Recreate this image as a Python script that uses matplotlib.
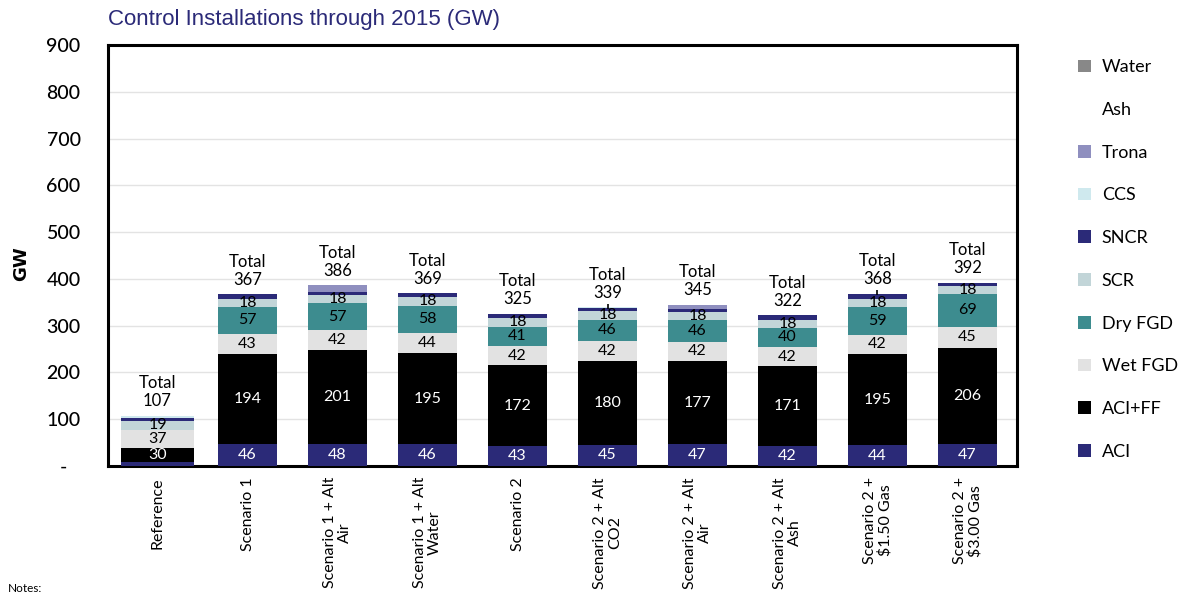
import matplotlib
matplotlib.use("Agg")
import matplotlib.pyplot as plt
import numpy as np

categories = ["Reference", "Scenario 1", "Scenario 1 + Alt\nAir", "Scenario 1 + Alt\nWater",
              "Scenario 2", "Scenario 2 + Alt\nCO2", "Scenario 2 + Alt\nAir", "Scenario 2 + Alt\nAsh",
              "Scenario 2 +\n$1.50 Gas", "Scenario 2 +\n$3.00 Gas"]

aci     = [9, 46, 48, 46, 43, 45, 47, 42, 44, 47]
aci_ff  = [30, 194, 201, 195, 172, 180, 177, 171, 195, 206]
wet_fgd = [37, 43, 42, 44, 42, 42, 42, 42, 42, 45]
dry_fgd = [2, 57, 57, 58, 41, 46, 46, 40, 59, 69]
scr     = [19, 18, 18, 18, 18, 18, 18, 18, 18, 18]
sncr    = [6, 9, 7, 8, 9, 7, 6, 9, 9, 7]
ccs     = [4, 0, 0, 0, 0, 1, 0, 0, 1, 0]
trona   = [0, 0, 13, 0, 0, 0, 9, 0, 0, 0]
ash     = [0, 0, 0, 0, 0, 0, 0, 0, 0, 0]
water   = [0, 0, 0, 0, 0, 0, 0, 0, 0, 0]
totals  = [107, 367, 386, 369, 325, 339, 345, 322, 368, 392]

series = [
    ("ACI", aci, "#2b2a78", "white", True),
    ("ACI+FF", aci_ff, "#000000", "white", True),
    ("Wet FGD", wet_fgd, "#e2e2e2", "black", True),
    ("Dry FGD", dry_fgd, "#3d8c8f", "black", True),
    ("SCR", scr, "#c2d5d8", "black", True),
    ("SNCR", sncr, "#2b2a78", "black", False),
    ("CCS", ccs, "#cfe9ee", "black", True),
    ("Trona", trona, "#8f8fbf", "black", False),
    ("Ash", ash, "#ffffff", "black", False),
    ("Water", water, "#888888", "black", False),
]

fig = plt.figure(figsize=(11.89, 5.96), dpi=100)
ax = fig.add_axes([108/1189, 1-466/596, (1017-108)/1189, (466-45)/596])

x = np.arange(len(categories))
widths = [0.81] + [0.65]*9
bottom = np.zeros(len(categories))
font = "Lato"
handles = []
for name, vals, color, tcol, lab in series:
    v = np.array(vals, dtype=float)
    b = ax.bar(x, v, widths, bottom=bottom, color=color, edgecolor="none", label=name, zorder=3)
    handles.append(b)
    for i in range(len(x)):
        if v[i] <= 0:
            continue
        if lab and v[i] >= 15:
            ax.text(x[i], bottom[i] + v[i]/2, f"{int(v[i])}",
                    ha="center", va="center", color=tcol, fontsize=11.5, family=font, zorder=4)
        elif name == "CCS" and i > 0:
            top = bottom[i] + v[i]
            ax.vlines(x[i], top - 3, top + 8, color="black", linewidth=1.2, zorder=4)
    bottom += v

for i in range(len(x)):
    ax.text(x[i], bottom[i] + 14, f"Total\n{totals[i]}", ha="center", va="bottom",
            fontsize=12, family=font, linespacing=1.15, zorder=4)

ax.set_xlim(-0.55, len(x) - 0.45)
ax.set_ylim(0, 900)
ax.set_yticks(np.arange(0, 901, 100))
ax.set_yticklabels(["-"] + [str(v) for v in range(100, 901, 100)], family=font, fontsize=14,
                   fontweight="medium")
ax.set_xticks(x)
ax.set_xticklabels(categories, rotation=90, family=font, fontsize=11.5, va="top", ha="center",
                   linespacing=1.1)
ax.tick_params(axis="both", length=0)
ax.tick_params(axis="y", pad=32)
ax.tick_params(axis="x", pad=8)
for lab in ax.get_yticklabels():
    lab.set_horizontalalignment("center")
ax.grid(axis="y", color="#e3e3e3", linewidth=1, zorder=0)
for s in ax.spines.values():
    s.set_linewidth(2.2)
    s.set_color("black")
ax.set_ylabel("GW", fontsize=13, fontweight="bold", family="DejaVu Sans")
ax.yaxis.set_label_coords(-0.086, 0.48)

fig.text(108/1189, 1-19/596, "Control Installations through 2015 (GW)", color="#2b2a78",
         fontsize=16, family="Liberation Sans", va="center", ha="left")
fig.text(8/1189, 1-589/596, "Notes:", fontsize=8.5, family=font, va="center")

leg = fig.legend(handles[::-1], [s[0] for s in series][::-1], loc="upper left",
                 bbox_to_anchor=(1062/1189, 1-43/596), frameon=False, prop={"family": font, "size": 13},
                 handlelength=0.7, handleheight=0.7, handletextpad=0.6, labelspacing=1.48)

fig.savefig("out.png", dpi=100)
